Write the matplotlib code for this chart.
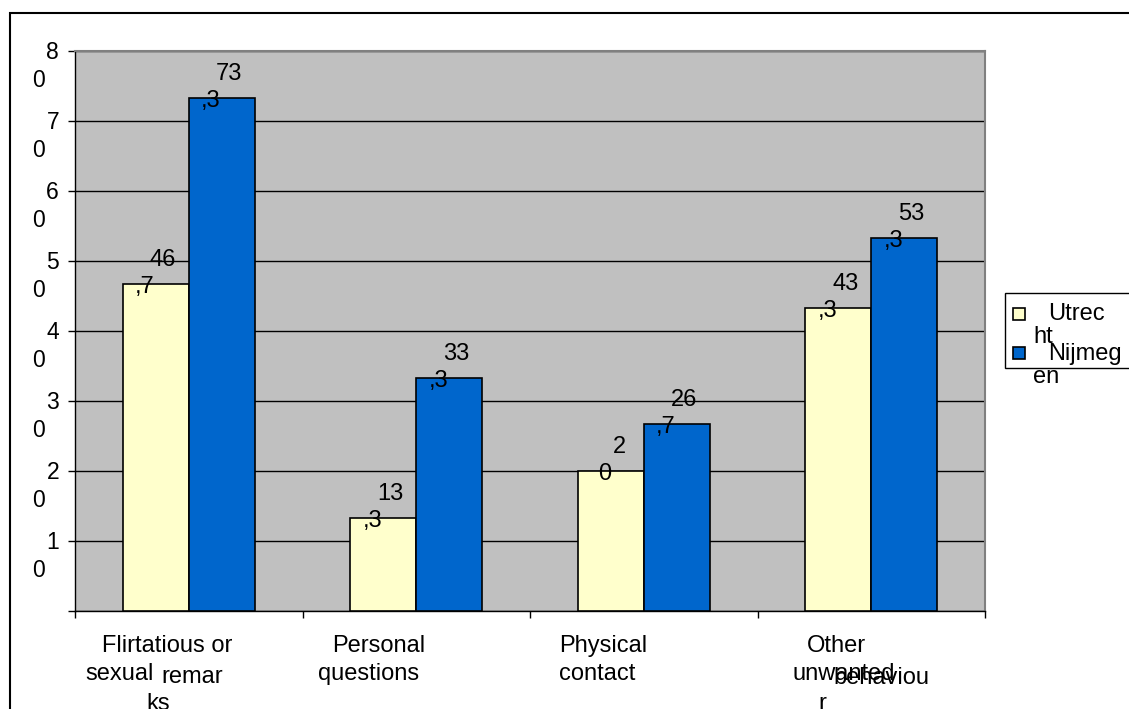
import matplotlib
matplotlib.use('Agg')
from matplotlib import pyplot as plt
from matplotlib.patches import Rectangle
import numpy as np

# === DATA === #
categories = ['Flirtatious or sexual remarks', 'Personal questions', 'Physical contact', 'Other unwanted behaviour']
utrecht = [46.7, 13.3, 20.0, 43.3]
nijmegen = [73.3, 33.3, 26.7, 53.3]
# data labels as the wrapped text shows them (first line, second line)
utrecht_labels = [('46', ',7'), ('13', ',3'), ('2', '0'), ('43', ',3')]
nijmegen_labels = [('73', ',3'), ('33', ',3'), ('26', ',7'), ('53', ',3')]
yticks = [10, 20, 30, 40, 50, 60, 70, 80]
# category labels, broken the way the original wraps them
cat_lines = [['Flirtatious or', 'sexual', 'remar', 'ks'],
             ['Personal', 'questions'],
             ['Physical', 'contact'],
             ['Other', 'unwanted', 'behaviou', 'r']]
legend_names = [('Utrec', 'ht'), ('Nijmeg', 'en')]

# === LAYOUT / STYLE === #
W, H = 1129, 709
YELLOW = '#FFFFCC'
BLUE = '#0066CC'
GREY = '#C0C0C0'
FONT = 'Liberation Sans'
BarW = 0.29
FS = 17  # text size used across the chart
# pixel offsets (dx, baseline dy) of each category label line from category centre / axis bottom
cat_offsets = [[(-22, 41), (-69, 69), (3, 72), (-31, 99)],
               [(-38, 41), (-48, 69)],
               [(-41, 41), (-47, 69)],
               [(-35, 41), (-28, 69), (10, 73), (-49, 99)]]

plt.rcParams['font.family'] = [FONT, 'DejaVu Sans']

fig = plt.figure(figsize=(W / 100, H / 100), dpi=100)
ax = fig.add_axes([75 / W, (H - 611) / H, 910 / W, 560 / H])
ax.set_facecolor(GREY)

x = np.arange(len(categories))
ax.bar(x - BarW / 2, utrecht, BarW, color=YELLOW, edgecolor='black', linewidth=1.2, zorder=3)
ax.bar(x + BarW / 2, nijmegen, BarW, color=BLUE, edgecolor='black', linewidth=1.2, zorder=3)

ax.set_xlim(-0.5, len(categories) - 0.5)
ax.set_ylim(0, 80)
ax.set_yticks([0] + yticks)
ax.set_yticklabels([])
ax.set_xticks(np.arange(len(categories) + 1) - 0.5)
ax.set_xticklabels([])
ax.tick_params(axis='both', direction='out', length=5, width=1, color='black')
ax.yaxis.grid(True, color='black', linewidth=1)
ax.set_axisbelow(True)
for s in ['top', 'right']:
    ax.spines[s].set_color('#808080')
    ax.spines[s].set_linewidth(1.5)
for s in ['left', 'bottom']:
    ax.spines[s].set_color('black')
    ax.spines[s].set_linewidth(1)

# y tick labels, wrapped as "8" / "0"
ytr = ax.get_yaxis_transform()
for v in yticks:
    ax.annotate(str(v // 10), xy=(0, v), xycoords=ytr, xytext=(-16, -8), textcoords='offset pixels',
                ha='right', va='baseline', fontsize=FS - 0.5)
    ax.annotate(str(v % 10), xy=(0, v), xycoords=ytr, xytext=(-43, -36), textcoords='offset pixels',
                ha='left', va='baseline', fontsize=FS - 0.5)

# data labels
def label_bars(xs, vals, labels):
    for xi, v, (l1, l2) in zip(xs, vals, labels):
        d1 = 7 if len(l1) > 1 else 9
        d2 = -11 if l2.startswith(',') else -6
        ax.annotate(l1, xy=(xi, v), xytext=(d1, 18), textcoords='offset pixels',
                    ha='center', va='baseline', fontsize=FS, zorder=5)
        ax.annotate(l2, xy=(xi, v), xytext=(d2, -9), textcoords='offset pixels',
                    ha='center', va='baseline', fontsize=FS, zorder=5)

label_bars(x - BarW / 2, utrecht, utrecht_labels)
label_bars(x + BarW / 2, nijmegen, nijmegen_labels)

# category labels
xtr = ax.get_xaxis_transform()
for xi, lines, offs in zip(x, cat_lines, cat_offsets):
    for line, (dx, dy) in zip(lines, offs):
        ax.annotate(line, xy=(xi, 0), xycoords=xtr, xytext=(dx, -dy), textcoords='offset pixels',
                    ha='center', va='baseline', fontsize=FS, annotation_clip=False)

# legend drawn by hand (wrapped entries)
def px(xp, yp):
    return xp / W, 1 - yp / H

lx0, ly0 = px(1005, 368)
lx1, ly1 = px(1135, 293)
fig.patches.append(Rectangle((lx0, ly0), lx1 - lx0, ly1 - ly0, transform=fig.transFigure,
                             facecolor='white', edgecolor='black', linewidth=1))
for i, (col, (n1, n2)) in enumerate(zip([YELLOW, BLUE], legend_names)):
    top = 308 + i * 39
    sx, sy = px(1013, top + 12)
    fig.patches.append(Rectangle((sx, sy), 12 / W, 12 / H, transform=fig.transFigure,
                                 facecolor=col, edgecolor='black', linewidth=1.2, zorder=4))
    tx, ty = px(1048, 320 + i * 40)
    fig.text(tx, ty, n1, ha='left', va='baseline', fontsize=FS, zorder=5)
    tx, ty = px(1033, 343 + i * 40)
    fig.text(tx, ty, n2, ha='left', va='baseline', fontsize=FS, zorder=5)

# outer chart border
bx0, by0 = px(10, 720)
bx1, by1 = px(1140, 13)
fig.patches.append(Rectangle((bx0, by0), bx1 - bx0, by1 - by0, transform=fig.transFigure,
                             facecolor='none', edgecolor='black', linewidth=1.5))

fig.savefig('out.png', dpi=100)
